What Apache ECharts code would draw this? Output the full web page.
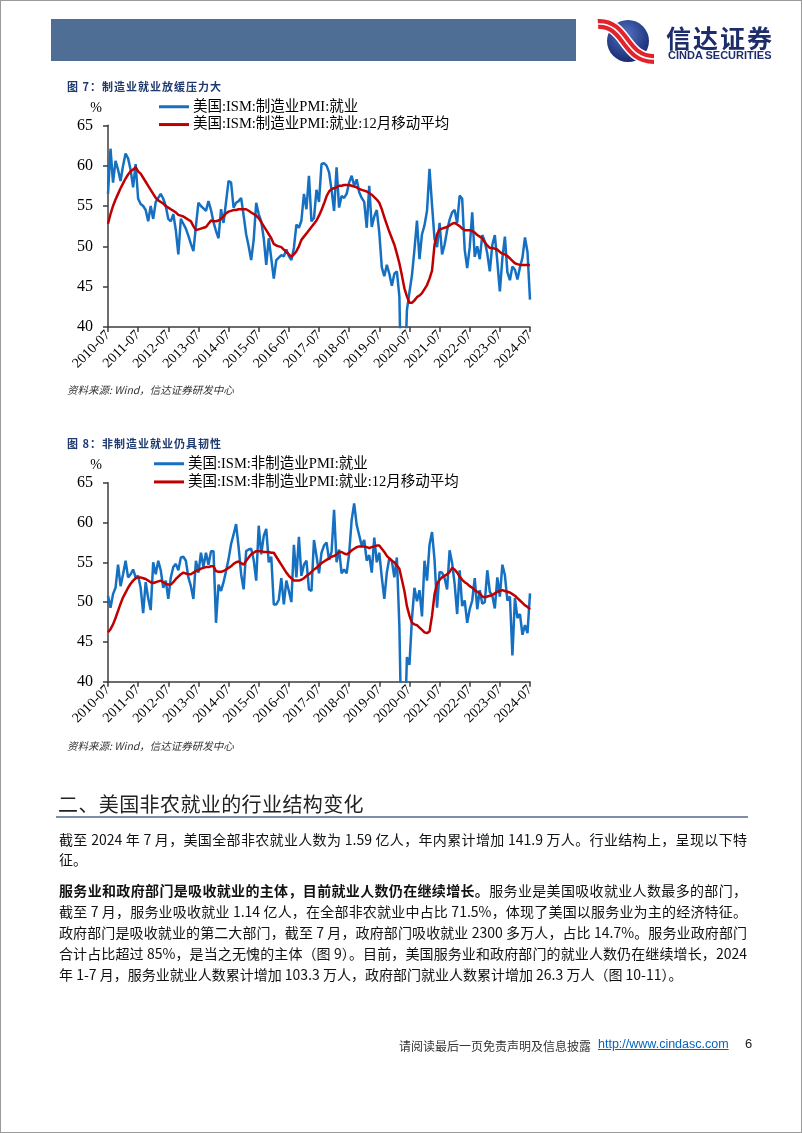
<!DOCTYPE html>
<html>
<head>
<meta charset="utf-8">
<script src="https://cdn.jsdelivr.net/npm/echarts@6/dist/echarts.min.js"></script>
<style>
html, body { margin: 0; padding: 0; background: #fff; }
#page { position: relative; width: 802px; height: 1133px; overflow: hidden; box-sizing: border-box; border: 1px solid #9a9a9a; font-family: "Noto Sans CJK SC", sans-serif; }
#chart { position: absolute; left: 0; top: 0; width: 802px; height: 1133px; }
.abs { position: absolute; white-space: nowrap; z-index: 2; }
.figtitle { left: 66px; font-size: 11px; font-weight: bold; color: #1f3a6e; letter-spacing: 1px; }
.source { left: 66px; font-size: 10.5px; font-style: italic; color: #333; }
.line { position: absolute; left: 58px; width: 688px; font-size: 14px; line-height: 20px; color: #111; z-index: 2; white-space: nowrap; }
.just { text-align: justify; text-align-last: justify; white-space: normal; }
</style>
</head>
<body>
<div id="page">
  <div id="chart"></div>

  <!-- header -->
  <div class="abs" style="left:50px;top:18px;width:525px;height:42px;background:#4e6e96;"></div>
  <svg class="abs" style="left:594px;top:17px" width="62" height="46" viewBox="0 0 62 46">
    <defs>
      <radialGradient id="lg" cx="45%" cy="35%" r="70%">
        <stop offset="0" stop-color="#5274c4"/>
        <stop offset="1" stop-color="#14246a"/>
      </radialGradient>
    </defs>
    <circle cx="33" cy="23" r="21" fill="url(#lg)"/>
    <path d="M3 6 C 18 5, 25 16, 31 24 S 44 41, 59 41" stroke="#fff" stroke-width="13" fill="none"/>
    <path d="M3 6 C 18 5, 25 16, 31 24 S 44 41, 59 41" stroke="#e3232c" stroke-width="10" fill="none"/>
    <path d="M3 6 C 18 5, 25 16, 31 24 S 44 41, 59 41" stroke="#fff" stroke-width="1.6" fill="none"/>
  </svg>
  <div class="abs" style="left:665px;top:24px;font-size:25px;line-height:25px;font-weight:bold;color:#1d2d6b;letter-spacing:2px;">信达证券</div>
  <div class="abs" style="left:667px;top:49px;font-size:11px;line-height:11px;font-weight:bold;color:#1d2d6b;font-family:'Liberation Sans',Arial,sans-serif;">CINDA SECURITIES</div>

  <div class="abs figtitle" style="top:77px;">图 7：制造业就业放缓压力大</div>
  <div class="abs source" style="top:381px;">资料来源: Wind，信达证券研发中心</div>
  <div class="abs figtitle" style="top:434px;">图 8：非制造业就业仍具韧性</div>
  <div class="abs source" style="top:737px;">资料来源: Wind，信达证券研发中心</div>

  <!-- section -->
  <div class="abs" style="left:57px;top:788px;font-size:20px;color:#222;letter-spacing:0.4px;">二、美国非农就业的行业结构变化</div>
  <div class="abs" style="left:55px;top:815px;width:692px;height:1.5px;background:#7f8ea6;"></div>

  <div class="line just" style="top:828px;">截至 2024 年 7 月，美国全部非农就业人数为 1.59 亿人，年内累计增加 141.9 万人。行业结构上，呈现以下特</div>
  <div class="line" style="top:848px;">征。</div>
  <div class="line just" style="top:879px;"><b>服务业和政府部门是吸收就业的主体，目前就业人数仍在继续增长。</b>服务业是美国吸收就业人数最多的部门，</div>
  <div class="line just" style="top:900px;">截至 7 月，服务业吸收就业 1.14 亿人，在全部非农就业中占比 71.5%，体现了美国以服务业为主的经济特征。</div>
  <div class="line just" style="top:921px;">政府部门是吸收就业的第二大部门，截至 7 月，政府部门吸收就业 2300 多万人，占比 14.7%。服务业政府部门</div>
  <div class="line just" style="top:942px;">合计占比超过 85%，是当之无愧的主体（图 9）。目前，美国服务业和政府部门的就业人数仍在继续增长，2024</div>
  <div class="line" style="top:963px;">年 1-7 月，服务业就业人数累计增加 103.3 万人，政府部门就业人数累计增加 26.3 万人（图 10-11）。</div>

  <!-- footer -->
  <div class="abs" style="left:398px;top:1036px;font-size:12px;color:#333;">请阅读最后一页免责声明及信息披露</div>
  <div class="abs" style="left:597px;top:1036px;font-size:12.5px;color:#0563c1;text-decoration:underline;font-family:'Liberation Sans',Arial,sans-serif;">http://www.cindasc.com</div>
  <div class="abs" style="left:744px;top:1035px;font-size:13px;color:#222;font-family:'Liberation Sans',Arial,sans-serif;">6</div>
</div>

<script>
// 月份类目: 2010-07 ~ 2024-07
var months = [];
(function () {
  var y = 2010, m = 7;
  while (months.length < 169) {
    months.push(y + '-' + (m < 10 ? '0' : '') + m);
    m++;
    if (m > 12) { m = 1; y++; }
  }
})();

var yTicks = [40, 45, 50, 55, 60, 65];

// 图7 美国:ISM:制造业PMI:就业
var mfgEmp = [
  56.5, 62.1, 57.9, 60.6, 59.5, 58.1, 60.0, 61.5, 60.9, 59.5, 57.3, 60.2,
  55.9, 55.25, 55.0, 54.5, 53.1, 55.0, 53.4, 55.5, 56.0, 56.5, 55.9, 55.0,
  53.4, 53.1, 54.0, 52.0, 49.0, 53.4, 52.8, 52.2, 51.3, 50.3, 49.4, 52.5,
  55.4, 55.0, 54.7, 54.4, 55.6, 54.5, 53.0, 51.9, 51.0, 54.6, 52.9, 55.5,
  58.1, 57.9, 54.8, 55.4, 55.6, 56.0, 53.8, 51.5, 50.0, 48.3, 50.8, 55.4,
  54.0, 53.1, 51.0, 47.7, 51.0, 48.5, 46.0, 48.3, 48.6, 48.9, 48.75, 49.6,
  48.8, 48.3, 49.8, 52.7, 52.3, 53.2, 56.5, 54.6, 58.75, 53.1, 53.5, 57.0,
  55.5, 60.2, 60.3, 60.0, 59.2, 57.0, 54.4, 59.8, 54.8, 56.25, 56.0, 56.5,
  57.9, 58.75, 57.5, 58.3, 56.7, 56.0, 55.5, 52.3, 57.5, 52.4, 53.7, 54.5,
  51.7, 47.4, 46.3, 47.7, 46.6, 45.1, 46.6, 46.9, 43.8, 27.5, 32.1, 42.1,
  44.3, 46.4, 49.6, 53.2, 48.4, 51.5, 52.6, 54.4, 59.6, 55.1, 50.9, 49.9,
  52.9, 49.0, 50.2, 52.0, 53.3, 54.2, 54.5, 52.9, 56.3, 55.9, 49.6, 47.3,
  49.9, 54.2, 48.7, 50.0, 48.4, 51.4, 50.6, 49.1, 46.9, 50.2, 51.4, 48.1,
  44.4, 48.5, 51.2, 46.8, 45.8, 47.5, 47.1, 45.9, 47.4, 48.6, 51.1, 49.3,
  43.4
];

// 图7 美国:ISM:制造业PMI:就业:12月移动平均
var mfgEmpMA = [
  52.8, 54.0, 55.0, 55.8, 56.5, 57.2, 57.8, 58.4, 58.9, 59.3, 59.5, 59.8,
  59.3, 59.0, 58.5, 58.0, 57.5, 57.0, 56.5, 56.0, 55.7, 55.5, 55.3, 55.0,
  54.8, 54.6, 54.4, 54.2, 53.9, 53.8, 53.7, 53.5, 53.3, 53.1, 52.5, 52.0,
  52.1, 52.2, 52.3, 52.4, 52.8, 53.2, 53.1, 53.1, 53.2, 53.4, 53.7, 54.1,
  54.3, 54.4, 54.5, 54.5, 54.6, 54.6, 54.6, 54.6, 54.4, 54.2, 54.0, 53.8,
  53.5, 53.0, 52.5, 52.0, 51.5, 51.0, 50.3, 50.1, 50.0, 49.9, 49.6, 49.3,
  49.0, 48.7, 49.0, 49.4, 50.0, 50.8, 51.2, 51.6, 52.0, 52.4, 52.8, 53.2,
  53.8, 54.5, 55.3, 56.2, 56.8, 57.1, 57.2, 57.3, 57.5, 57.5, 57.6, 57.6,
  57.6, 57.5, 57.4, 57.3, 57.1, 57.0, 56.9, 56.8, 56.6, 56.4, 56.1, 55.8,
  55.4, 54.6, 53.6, 52.7, 51.8, 51.0, 50.2, 49.1, 47.9, 46.4, 44.8, 43.8,
  43.0, 43.0, 43.3, 43.7, 43.9, 44.2, 44.7, 45.2, 46.0, 47.0, 50.2, 51.5,
  52.1, 52.2, 52.3, 52.4, 52.6, 52.8, 52.9, 52.7, 52.5, 52.2, 52.0, 52.0,
  52.0, 51.9, 51.7, 51.4, 51.2, 51.0, 50.5, 50.1, 49.8, 49.8, 49.7, 49.6,
  49.3, 49.1, 49.0, 48.8, 48.5, 48.2, 47.9, 47.8, 47.7, 47.7, 47.7, 47.7,
  47.7
];

// 图8 美国:ISM:非制造业PMI:就业
var svcEmp = [
  50.8, 49.3, 51.0, 51.8, 54.7, 52.0, 53.5, 55.2, 53.1, 53.5, 54.1, 53.1,
  53.3, 51.8, 48.6, 52.5, 50.5, 49.0, 55.0, 53.5, 55.2, 54.0, 51.8, 52.7,
  50.4, 53.1, 54.4, 54.8, 54.0, 55.6, 55.7, 55.2, 53.1, 52.0, 50.4, 55.2,
  53.7, 56.2, 54.4, 56.2, 54.7, 56.4, 56.4, 47.4, 52.2, 51.4, 52.5, 53.9,
  55.4, 57.3, 58.5, 59.8, 56.9, 53.5, 51.6, 56.4, 56.6, 56.7, 55.3, 52.7,
  59.6, 56.0, 58.3, 59.2, 55.0, 55.7, 49.7, 49.7, 50.3, 53.0, 49.7, 52.7,
  51.4, 50.0, 57.2, 53.1, 58.2, 53.3, 54.7, 55.2, 51.6, 51.4, 57.8, 55.8,
  53.6, 56.2, 57.1, 57.5, 55.3, 56.3, 61.6, 55.0, 56.6, 53.6, 54.1, 53.6,
  56.1, 60.3, 62.4, 59.7, 58.4, 57.1, 57.8, 55.2, 55.9, 53.7, 58.1, 55.0,
  56.2, 53.1, 50.4, 53.7, 55.5, 55.2, 53.1, 55.6, 47.0, 30.0, 31.8, 43.1,
  42.1, 47.9, 51.8, 50.1, 51.5, 48.2, 55.2, 52.7, 57.2, 58.8, 55.3, 49.3,
  53.8, 53.7, 53.0, 51.6, 56.5, 54.9, 52.3, 48.5, 54.0, 49.5, 50.2, 47.4,
  49.1, 50.2, 53.0, 49.1, 51.5, 49.8, 50.0, 54.0, 51.3, 50.8, 49.2, 53.1,
  50.7, 54.7, 53.4, 50.2, 50.7, 43.3, 50.5, 48.0, 48.5, 45.9, 47.1, 46.1,
  51.1
];

// 图8 美国:ISM:非制造业PMI:就业:12月移动平均
var svcEmpMA = [
  46.2, 46.6, 47.2, 48.0, 48.9, 49.8, 50.6, 51.2, 51.8, 52.3, 52.7, 53.0,
  53.1, 53.1, 53.0, 52.9, 52.7, 52.5, 52.4, 52.5, 52.6, 52.7, 52.5, 52.3,
  52.2, 52.2, 52.5, 52.9, 53.2, 53.5, 53.7, 53.6, 53.5, 53.5, 53.7, 53.9,
  54.0, 54.2, 54.3, 54.4, 54.4, 54.5, 54.5, 53.9, 53.8, 53.8, 53.9, 54.1,
  54.3, 54.5, 54.8, 55.0, 55.1, 54.9, 54.7, 55.2, 55.6, 56.0, 56.2, 56.4,
  56.4, 56.4, 56.3, 56.3, 56.3, 56.2, 56.2, 55.7, 55.2, 54.7, 54.2, 53.7,
  53.3, 53.0, 52.7, 52.7, 52.7, 52.8, 53.0, 53.3, 53.5, 53.8, 54.1, 54.3,
  54.6, 54.9, 55.1, 55.3, 55.5, 55.7, 55.8, 56.0, 56.3, 56.3, 56.1, 56.0,
  56.2, 56.5, 56.7, 56.9, 57.0, 57.0, 57.0, 56.9, 56.8, 56.9, 57.0, 57.1,
  57.1, 56.7, 56.3, 55.8, 55.5, 55.2, 55.0, 54.6, 54.2, 52.8, 51.4, 49.5,
  48.3, 47.4, 47.2, 47.1, 46.8, 46.5, 46.2, 46.1, 46.3, 48.3, 51.0, 52.3,
  52.8, 53.1, 53.3, 53.5, 53.8, 54.3, 54.1, 53.7, 53.2, 52.8, 52.5, 52.3,
  52.0, 51.8, 51.5, 51.3, 51.1, 50.7, 50.6, 50.7, 50.8, 50.9, 51.1, 51.3,
  51.4, 51.5, 51.4, 51.3, 51.2, 51.0, 50.8, 50.5, 50.2, 49.9, 49.6, 49.4,
  49.1
];

var names1 = ['美国:ISM:制造业PMI:就业', '美国:ISM:制造业PMI:就业:12月移动平均'];
var names2 = ['美国:ISM:非制造业PMI:就业', '美国:ISM:非制造业PMI:就业:12月移动平均'];

var BLUE = '#1570c2';
var RED = '#c00000';
var AXIS = '#3c3c3c';
var serif = "'Liberation Serif', 'Noto Sans CJK SC', serif";

function xAxisCfg(gi) {
  return {
    type: 'category',
    gridIndex: gi,
    data: months,
    boundaryGap: false,
    axisLine: { lineStyle: { color: AXIS, width: 1.5 } },
    axisTick: { interval: 11, length: 5, lineStyle: { color: AXIS, width: 1.5 } },
    axisLabel: { interval: 11, rotate: 45, margin: 6, fontFamily: serif, fontSize: 14, color: '#000' },
    splitLine: { show: false }
  };
}

function yAxisCfg(gi) {
  return {
    type: 'value',
    gridIndex: gi,
    min: yTicks[0],
    max: yTicks[yTicks.length - 1],
    interval: 5,
    name: '%',
    nameLocation: 'end',
    nameGap: 10,
    nameTextStyle: { fontFamily: serif, fontSize: 14, color: '#000', align: 'right', padding: [0, 6, 0, 0] },
    axisLine: { show: true, lineStyle: { color: AXIS, width: 1.5 } },
    axisTick: { show: true, length: 5, lineStyle: { color: AXIS, width: 1.5 } },
    axisLabel: { margin: 15, fontFamily: serif, fontSize: 16, color: '#000' },
    splitLine: { show: false }
  };
}

function legendCfg(names, left, top, gap) {
  return {
    data: names,
    orient: 'vertical',
    left: left,
    top: top,
    padding: 0,
    icon: 'rect',
    itemWidth: 30,
    itemHeight: 3,
    itemGap: gap,
    textStyle: { fontFamily: serif, fontSize: 14.5, color: '#000', padding: [0, 0, 0, -1] }
  };
}

function lineSeries(name, data, color, gi) {
  return {
    name: name,
    type: 'line',
    xAxisIndex: gi,
    yAxisIndex: gi,
    data: data,
    symbol: 'none',
    clip: true,
    itemStyle: { color: color },
    lineStyle: { color: color, width: 2.5 }
  };
}

var chart = echarts.init(document.getElementById('chart'));
chart.setOption({
  animation: false,
  backgroundColor: 'transparent',
  grid: [
    { left: 107, top: 124.3, width: 422, height: 201.7 },
    { left: 107, top: 481.7, width: 422, height: 199 }
  ],
  legend: [
    legendCfg(names1, 158, 98.5, 3.3),
    legendCfg(names2, 153, 455.5, 3.7)
  ],
  xAxis: [xAxisCfg(0), xAxisCfg(1)],
  yAxis: [yAxisCfg(0), yAxisCfg(1)],
  series: [
    lineSeries(names1[0], mfgEmp, BLUE, 0),
    lineSeries(names1[1], mfgEmpMA, RED, 0),
    lineSeries(names2[0], svcEmp, BLUE, 1),
    lineSeries(names2[1], svcEmpMA, RED, 1)
  ]
});
</script>
</body>
</html>
